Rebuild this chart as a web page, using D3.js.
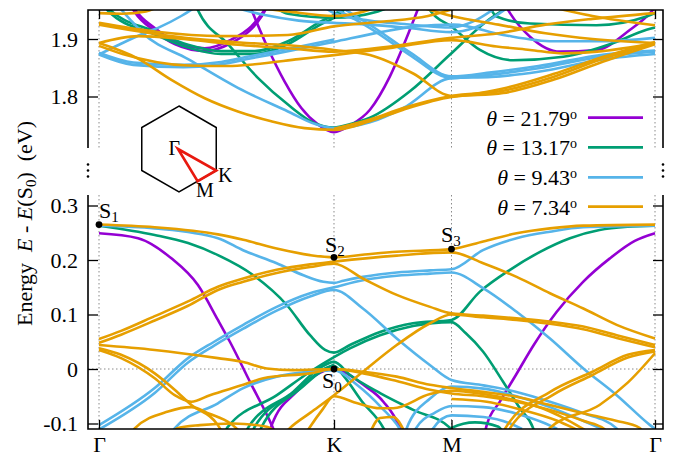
<!DOCTYPE html>
<html><head><meta charset="utf-8">
<script src="https://cdn.jsdelivr.net/npm/d3@7"></script>
<style>body{margin:0;background:#fff} svg{display:block}</style>
</head><body><svg id="c" width="678" height="457"></svg>
<script>
// ---------- DATA ----------
const kLabels = ["Γ","K","M","Γ"];
const kTicks = [0, 1, 1.5, 2.366];
const lowTicks = [-0.1, 0, 0.1, 0.2, 0.3];
const highTicks = [1.8, 1.9];
const thetaLabels = ["21.79", "13.17", "9.43", "7.34"];
const specialPoints = [["1",0,0.265],["2",1,0.205],["3",1.5,0.22],["0",1,0]];

const purpleLow = [
 [[0,0.249],[0.166,0.24],[0.308,0.203],[0.421,0.154],[0.506,0.09],[0.557,0.05],[0.643,-0.024],[0.735,-0.103],[0.75,-0.118]],
 [[0.725,-0.118],[0.735,-0.103],[0.84,-0.042],[0.94,-0.007],[1,0],[1.04,-0.005],[1.125,-0.029],[1.21,-0.06],[1.28,-0.108],[1.29,-0.12]],
 [[1.64,-0.12],[1.65,-0.103],[1.706,-0.06],[1.774,-0.011],[1.85,0.044],[1.948,0.105],[2.06,0.16],[2.174,0.203],[2.28,0.235],[2.366,0.249]]
];
const purpleHigh = [
 [[0.64,1.96],[0.663,1.937],[0.719,1.884],[0.79,1.826],[0.861,1.78],[0.93,1.752],[1,1.738],[1.07,1.75],[1.153,1.777],[1.238,1.835],[1.3,1.893],[1.36,1.955]],
 [[0.14,1.96],[0.152,1.952],[0.237,1.919],[0.322,1.896],[0.45,1.884],[0.563,1.899],[0.648,1.922],[0.69,1.942],[0.71,1.955]],
 [[0.14,1.955],[0.152,1.947],[0.237,1.914],[0.322,1.891],[0.45,1.879],[0.563,1.893],[0.648,1.917],[0.69,1.938],[0.71,1.952]],
 [[1.73,1.958],[1.749,1.945],[1.834,1.904],[1.962,1.878],[2.118,1.881],[2.26,1.916],[2.345,1.945],[2.366,1.955]]
];
const greenLow = [
 [[0,0.263],[0.237,0.246],[0.379,0.231],[0.506,0.209],[0.657,0.172],[0.8,0.117],[0.898,0.062],[0.962,0.035],[1,0.03],[1.068,0.044],[1.196,0.068],[1.336,0.084],[1.5,0.09],[1.621,0.142],[1.749,0.182],[1.877,0.215],[2.004,0.24],[2.13,0.255],[2.25,0.261],[2.366,0.263]],
 [[0.535,-0.125],[0.545,-0.108],[0.757,-0.048],[0.898,-0.005],[1,0.022],[1.068,0.038],[1.196,0.062],[1.336,0.079],[1.5,0.086],[1.56,0.066],[1.634,0.032],[1.719,-0.023],[1.791,-0.072],[1.847,-0.108],[1.86,-0.125]],
 [[0.62,-0.125],[0.634,-0.108],[0.826,-0.042],[0.94,0.002],[1,0.013],[1.068,-0.011],[1.2,-0.045],[1.337,-0.075],[1.494,-0.108],[1.51,-0.12]],
 [[0.65,-0.125],[0.66,-0.108],[0.84,-0.04],[0.95,-0.002],[1,0.006],[1.04,-0.012],[1.12,-0.06],[1.21,-0.108],[1.23,-0.125]],
 [[0.68,-0.125],[0.69,-0.108],[0.86,-0.035],[0.96,0.0],[1,0.008]],
 [[1.47,-0.125],[1.5,-0.108],[1.6,-0.098],[1.7,-0.106],[1.73,-0.125]]
];
const greenHigh = [
 [[0.41,1.96],[0.421,1.95],[0.549,1.891],[0.677,1.832],[0.813,1.783],[0.91,1.755],[1,1.746],[1.07,1.752],[1.153,1.763],[1.323,1.809],[1.494,1.873],[1.65,1.931],[1.75,1.958]],
 [[0.03,1.96],[0.038,1.954],[0.237,1.913],[0.379,1.89],[0.52,1.879],[0.663,1.879],[0.804,1.896],[0.946,1.931],[1,1.942],[1.05,1.958]],
 [[0.03,1.955],[0.038,1.949],[0.237,1.908],[0.379,1.885],[0.52,1.874],[0.663,1.874],[0.804,1.891],[0.946,1.926],[1,1.937],[1.05,1.953]],
 [[1.4,1.958],[1.409,1.95],[1.502,1.921],[1.621,1.881],[1.763,1.863],[1.976,1.869],[2.189,1.893],[2.33,1.916],[2.366,1.92]],
 [[1.66,1.958],[1.692,1.939],[1.834,1.927],[2.117,1.924],[2.33,1.939],[2.366,1.945]],
 [[0.75,1.955],[0.804,1.944],[1,1.937],[1.187,1.948],[1.25,1.958]]
];
const blueLow = [
 [[0,0.263],[0.237,0.258],[0.506,0.24],[0.613,0.218],[0.756,0.194],[0.87,0.172],[0.955,0.16],[1,0.158],[1.04,0.162],[1.123,0.169],[1.267,0.177],[1.409,0.181],[1.5,0.183],[1.634,0.218],[1.777,0.24],[1.919,0.252],[2.06,0.26],[2.366,0.263]],
 [[0,-0.103],[0.237,-0.035],[0.379,0.02],[0.49,0.05],[0.614,0.081],[0.756,0.114],[0.898,0.139],[1,0.15],[1.123,0.163],[1.267,0.171],[1.409,0.175],[1.5,0.177],[1.636,0.148],[1.777,0.105],[1.919,0.056],[2.061,0.001],[2.203,-0.048],[2.345,-0.103],[2.366,-0.11]],
 [[0,-0.111],[0.237,-0.044],[0.379,0.012],[0.49,0.043],[0.614,0.074],[0.756,0.107],[0.898,0.133],[1,0.145],[1.123,0.111],[1.267,0.056],[1.409,0.007],[1.5,-0.02],[1.636,-0.03],[1.777,-0.042],[1.919,-0.06],[2.06,-0.081],[2.2,-0.108],[2.22,-0.12]],
 [[0.3,-0.125],[0.322,-0.109],[0.506,-0.063],[0.614,-0.035],[0.756,-0.014],[0.898,-0.005],[1,-0.002],[1.1,-0.03],[1.2,-0.07],[1.28,-0.11],[1.3,-0.125]],
 [[1.3,-0.125],[1.309,-0.109],[1.409,-0.054],[1.5,-0.032],[1.636,-0.036],[1.777,-0.05],[1.919,-0.07],[2.06,-0.095],[2.14,-0.11]],
 [[1.33,-0.125],[1.35,-0.108],[1.43,-0.08],[1.5,-0.068],[1.636,-0.07],[1.777,-0.082],[1.9,-0.1],[1.95,-0.11]],
 [[1.4,-0.125],[1.42,-0.11],[1.5,-0.085],[1.636,-0.088],[1.75,-0.1],[1.8,-0.11]]
];
const blueHigh = [
 [[0.08,1.958],[0.13,1.935],[0.187,1.91],[0.379,1.865],[0.591,1.815],[0.804,1.774],[0.92,1.752],[1,1.745],[1.08,1.748],[1.153,1.755],[1.295,1.78],[1.5,1.832],[1.67,1.834],[1.87,1.843],[2.15,1.865],[2.366,1.874]],
 [[0,1.873],[0.085,1.89],[0.174,1.907],[0.26,1.921],[0.35,1.94],[0.42,1.958]],
 [[0,1.873],[0.146,1.855],[0.359,1.851],[0.52,1.856],[0.643,1.866],[0.82,1.88],[1,1.895],[1.2,1.912],[1.35,1.922],[1.508,1.925],[1.72,1.907],[1.933,1.896],[2.146,1.896],[2.366,1.902]],
 [[0,1.876],[0.146,1.859],[0.359,1.855],[0.52,1.86],[0.643,1.87],[0.82,1.884],[1,1.899]],
 [[0.98,1.958],[1.153,1.919],[1.32,1.873],[1.5,1.832],[1.67,1.838],[1.87,1.849],[2.15,1.87],[2.366,1.878]],
 [[1.02,1.958],[1.17,1.92],[1.33,1.875],[1.5,1.835],[1.67,1.842],[1.87,1.853],[2.15,1.873],[2.366,1.88]],
 [[0.95,1.958],[1,1.945],[1.15,1.932],[1.3,1.926],[1.5,1.92],[1.6,1.932],[1.7,1.958]],
 [[0.55,1.958],[0.7,1.942],[0.85,1.932],[1,1.928],[1.15,1.925],[1.3,1.92],[1.5,1.912],[1.6,1.92],[1.75,1.958]]
];
const orangeLow = [
 [[0,0.265],[0.237,0.26],[0.506,0.247],[0.614,0.237],[0.756,0.221],[0.898,0.209],[1,0.205],[1.13,0.21],[1.267,0.215],[1.5,0.22],[1.635,0.234],[1.777,0.249],[1.919,0.258],[2.061,0.263],[2.366,0.265]],
 [[0,0.055],[0.094,0.07],[0.237,0.097],[0.379,0.124],[0.506,0.151],[0.614,0.166],[0.756,0.182],[0.898,0.192],[1,0.197],[1.267,0.208],[1.5,0.214],[1.635,0.194],[1.777,0.169],[1.919,0.139],[2.061,0.111],[2.203,0.081],[2.366,0.056]],
 [[0,0.048],[0.094,0.063],[0.237,0.089],[0.379,0.116],[0.506,0.145],[0.614,0.16],[0.756,0.176],[0.898,0.187],[1,0.193],[1.123,0.166],[1.267,0.136],[1.409,0.114],[1.5,0.102],[1.635,0.098],[1.777,0.093],[1.919,0.087],[2.061,0.078],[2.203,0.062],[2.366,0.044]],
 [[0.79,-0.118],[0.813,-0.108],[0.9,-0.08],[1,-0.048],[1.123,-0.005],[1.267,0.044],[1.409,0.084],[1.5,0.1],[1.635,0.095],[1.777,0.09],[1.919,0.083],[2.061,0.073],[2.203,0.057],[2.366,0.04]],
 [[0,0.044],[0.237,0.035],[0.506,0.02],[0.614,0.013],[0.714,0.001],[0.827,-0.002],[1,0],[1.125,-0.005],[1.267,-0.014],[1.409,-0.029],[1.5,-0.035],[1.635,-0.042],[1.777,-0.051],[1.919,-0.066],[2.06,-0.081],[2.2,-0.095],[2.3,-0.108],[2.32,-0.12]],
 [[0,0.035],[0.094,0.02],[0.237,-0.017],[0.322,-0.048],[0.393,-0.06],[0.472,-0.048],[0.614,-0.029],[0.699,-0.017],[0.898,-0.008],[1,0],[1.125,-0.008],[1.267,-0.022],[1.409,-0.038],[1.5,-0.045],[1.635,-0.05],[1.777,-0.06],[1.919,-0.075],[2.06,-0.095],[2.15,-0.11],[2.17,-0.12]],
 [[0,0.038],[0.094,0.026],[0.237,-0.008],[0.322,-0.038],[0.393,-0.066],[0.506,-0.103],[0.53,-0.12]],
 [[0.14,-0.12],[0.152,-0.109],[0.294,-0.078],[0.393,-0.07],[0.47,-0.082],[0.56,-0.1],[0.6,-0.115]],
 [[0.32,-0.12],[0.33,-0.109],[0.43,-0.103],[0.57,-0.1],[0.714,-0.106],[0.75,-0.115]],
 [[0.87,-0.125],[0.9,-0.105],[0.95,-0.075],[1,-0.05],[1.1,-0.063],[1.196,-0.072],[1.252,-0.072],[1.409,-0.046],[1.5,-0.04],[1.635,-0.046],[1.777,-0.058],[1.919,-0.078],[2.0,-0.095],[2.08,-0.115]],
 [[1.15,-0.12],[1.196,-0.09],[1.252,-0.088],[1.3,-0.115]],
 [[1.72,-0.12],[1.73,-0.108],[1.92,-0.042],[2.1,-0.005],[2.25,0.026],[2.366,0.035]],
 [[1.74,-0.12],[1.75,-0.108],[1.93,-0.048],[2.1,-0.011],[2.25,0.021],[2.366,0.032]],
 [[1.9,-0.12],[1.919,-0.108],[2.13,-0.066],[2.25,-0.025],[2.366,0.029]],
 [[1.5,-0.055],[1.65,-0.06],[1.8,-0.075],[1.95,-0.095],[2.05,-0.115]]
];
const orangeHigh = [
 [[0,1.893],[0.166,1.866],[0.308,1.829],[0.45,1.797],[0.591,1.774],[0.733,1.757],[0.875,1.745],[1,1.742],[1.153,1.757],[1.295,1.777],[1.5,1.799],[1.72,1.806],[1.933,1.829],[2.146,1.861],[2.366,1.891]],
 [[1,1.744],[1.153,1.76],[1.295,1.78],[1.5,1.801],[1.72,1.81],[1.933,1.834],[2.146,1.866],[2.366,1.893]],
 [[0,1.925],[0.365,1.902],[0.6,1.894],[0.804,1.889],[1,1.881],[1.153,1.872],[1.337,1.84],[1.5,1.801],[1.72,1.814],[1.933,1.839],[2.146,1.869],[2.366,1.895]],
 [[0,1.888],[0.1,1.874],[0.379,1.854],[0.55,1.853],[0.663,1.856],[0.85,1.865],[1,1.872],[1.25,1.885],[1.5,1.898],[1.692,1.887],[1.834,1.881],[1.976,1.875],[2.12,1.878],[2.366,1.893]],
 [[0,1.893],[0.166,1.905],[0.379,1.899],[0.591,1.89],[0.804,1.884],[1,1.878],[1.2,1.885],[1.5,1.902],[1.7,1.91],[1.9,1.925],[2.1,1.935],[2.366,1.945]],
 [[0,1.928],[0.237,1.913],[0.52,1.905],[0.804,1.907],[1,1.922],[1.2,1.93],[1.4,1.94],[1.55,1.958]],
 [[1.35,1.958],[1.5,1.94],[1.7,1.925],[1.9,1.91],[2.1,1.9],[2.366,1.893]],
 [[1.9,1.958],[2.1,1.94],[2.366,1.924]],
 [[0,1.945],[0.1,1.944],[0.2,1.948],[0.26,1.958]],
 [[0.6,1.958],[0.8,1.948],[1,1.94],[1.1,1.945],[1.2,1.958]]
];

// ---------- DRAW ----------
const SERIF = '"Liberation Serif", "Times New Roman", "DejaVu Serif", serif';
const svg = d3.select("#c");
const colors = ["#9400d3", "#009e73", "#56b4e9", "#e69f00"];
const xL = 88, xR = 663;
const lowTop = 195, lowBot = 429, highTop = 10, highBot = 148;
const x = d3.scaleLinear().domain([0, 2.366]).range([99, 655]);
const yLow = d3.scaleLinear().domain([-0.1, 0.3]).range([423.5, 205.5]);
const yHigh = d3.scaleLinear().domain([1.8, 1.9]).range([96.5, 39]);

const defs = svg.append("defs");
defs.append("clipPath").attr("id","clipLow").append("rect").attr("x",xL).attr("y",lowTop).attr("width",xR-xL).attr("height",lowBot-lowTop);
defs.append("clipPath").attr("id","clipHigh").append("rect").attr("x",xL).attr("y",highTop).attr("width",xR-xL).attr("height",highBot-highTop);

// gridlines
const grid = svg.append("g").attr("stroke","#8a8a8a").attr("stroke-width",1).attr("stroke-dasharray","1.5,2.5");
kTicks.forEach(k => {
  grid.append("line").attr("x1",x(k)).attr("x2",x(k)).attr("y1",highTop).attr("y2",highBot);
  grid.append("line").attr("x1",x(k)).attr("x2",x(k)).attr("y1",lowTop).attr("y2",lowBot);
});
grid.append("line").attr("x1",xL).attr("x2",xR).attr("y1",yLow(0)).attr("y2",yLow(0));

// bands
const lineLow = d3.line().x(d=>x(d[0])).y(d=>yLow(d[1])).curve(d3.curveMonotoneX);
const lineHigh = d3.line().x(d=>x(d[0])).y(d=>yHigh(d[1])).curve(d3.curveMonotoneX);
const gLow = svg.append("g").attr("clip-path","url(#clipLow)");
const gHigh = svg.append("g").attr("clip-path","url(#clipHigh)");
const lowSets = [purpleLow, greenLow, blueLow, orangeLow];
const highSets = [purpleHigh, greenHigh, blueHigh, orangeHigh];
lowSets.forEach((set,i) => {
  gHigh.selectAll(null).data(highSets[i]).enter().append("path")
    .attr("d", lineHigh).attr("fill","none").attr("stroke",colors[i]).attr("stroke-width",2.6).attr("stroke-linejoin","round");
  gLow.selectAll(null).data(set).enter().append("path")
    .attr("d", lineLow).attr("fill","none").attr("stroke",colors[i]).attr("stroke-width",2.6).attr("stroke-linejoin","round");
});

// axes
const FS = "22px";
const axL = svg.append("g").attr("transform",`translate(${xL},0)`)
  .call(d3.axisLeft(yLow).tickValues(lowTicks).tickSize(-10).tickPadding(10).tickFormat(d=> d===0?"0":d.toFixed(1)));
const axLH = svg.append("g").attr("transform",`translate(${xL},0)`)
  .call(d3.axisLeft(yHigh).tickValues(highTicks).tickSize(-10).tickPadding(10).tickFormat(d=>d.toFixed(1)));
const axR = svg.append("g").attr("transform",`translate(${xR},0)`)
  .call(d3.axisRight(yLow).tickValues(lowTicks).tickSize(-10).tickFormat(""));
const axRH = svg.append("g").attr("transform",`translate(${xR},0)`)
  .call(d3.axisRight(yHigh).tickValues(highTicks).tickSize(-10).tickFormat(""));
const axB = svg.append("g").attr("transform",`translate(0,${lowBot})`)
  .call(d3.axisBottom(x).tickValues(kTicks).tickSize(-9).tickPadding(7).tickFormat((d,i)=>kLabels[i]));
const axT = svg.append("g").attr("transform",`translate(0,${highTop})`)
  .call(d3.axisTop(x).tickValues(kTicks).tickSize(-9).tickFormat(""));
[axL,axLH,axR,axRH,axB,axT].forEach(a => {
  a.attr("font-family", SERIF).attr("font-size", 22);
  a.select(".domain").remove();
  a.selectAll("line").attr("stroke","#000").attr("stroke-width",1.3);
  a.selectAll("text").style("font-family",SERIF).style("font-size",FS).attr("fill","#000");
});

// frame lines
const fr = svg.append("g").attr("stroke","#000").attr("stroke-width",1.6).attr("fill","none");
fr.append("path").attr("d",`M${xL},${highBot}V${highTop}H${xR}V${highBot}`);
fr.append("path").attr("d",`M${xL},${lowTop}V${lowBot}H${xR}V${lowTop}`);
// break marks
[xL, xR].forEach(bx => [164.5,170.5,176.5].forEach(by =>
  svg.append("circle").attr("cx",bx).attr("cy",by).attr("r",1.3).attr("fill","#000")));

// y title
const yt = svg.append("text").attr("transform","translate(31.5,223.5) rotate(-90)")
  .attr("text-anchor","middle").style("font-family",SERIF).style("font-size",FS).style("white-space","pre");
yt.append("tspan").text("Energy  ");
yt.append("tspan").attr("font-style","italic").text("E");
yt.append("tspan").text(" - ");
yt.append("tspan").attr("font-style","italic").text("E");
yt.append("tspan").text("(S");
yt.append("tspan").attr("baseline-shift","-25%").style("font-size","15px").text("0");
yt.append("tspan").text(")  (eV)");

// special points
const spLabelPos = {"1":[99,218],"2":[325,252],"3":[441,242],"0":[322,388]};
specialPoints.forEach(([n,k,e]) => {
  svg.append("circle").attr("cx",x(k)).attr("cy",yLow(e)).attr("r",3.4).attr("fill","#000");
  const p = spLabelPos[n];
  const t = svg.append("text").attr("x",p[0]).attr("y",p[1]).style("font-family",SERIF).style("font-size",FS);
  t.append("tspan").text("S");
  t.append("tspan").attr("baseline-shift","-25%").style("font-size","15px").text(n);
});

// legend
const legY = [117.7, 147.3, 177.3, 206.7];
thetaLabels.forEach((lab,i) => {
  const t = svg.append("text").attr("x",577).attr("y",legY[i]+8).attr("text-anchor","end")
    .style("font-family",SERIF).style("font-size",FS).style("white-space","pre");
  t.append("tspan").attr("font-style","italic").text("θ");
  t.append("tspan").text(" = " + lab);
  t.append("tspan").attr("baseline-shift","super").style("font-size","14px").text("o");
  svg.append("line").attr("x1",588).attr("x2",643).attr("y1",legY[i]).attr("y2",legY[i])
    .attr("stroke",colors[i]).attr("stroke-width",2.8);
});

// Brillouin zone inset
const cx = 179, cy = 149, R = 43;
const hex = d3.range(6).map(j => { const a = (-90 + 60*j) * Math.PI/180; return [cx + R*Math.cos(a), cy + R*Math.sin(a)]; });
svg.append("path").attr("d", d3.line()(hex) + "Z").attr("fill","none").attr("stroke","#000").attr("stroke-width",1.5);
const Kp = hex[2], Mp = [(hex[2][0]+hex[3][0])/2, (hex[2][1]+hex[3][1])/2];
svg.append("path").attr("d", d3.line()([[cx-1,cy],Kp,Mp]) + "Z").attr("fill","none").attr("stroke","#e8190f").attr("stroke-width",2.6).attr("stroke-linejoin","miter");
[["Γ",180,155,"end"],["K",218,182,"start"],["M",196,197,"start"]].forEach(([s,tx,ty,an]) =>
  svg.append("text").attr("x",tx).attr("y",ty).attr("text-anchor",an).style("font-family",SERIF).style("font-size","20px").text(s));
</script>
</body></html>
